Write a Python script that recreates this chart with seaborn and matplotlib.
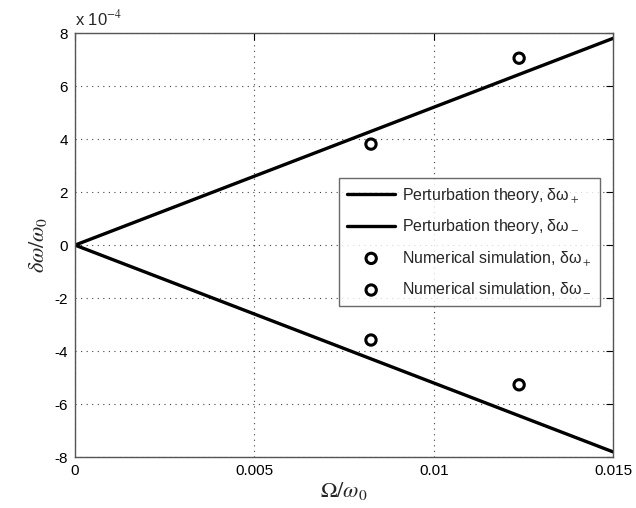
import numpy as np
import pandas as pd
import matplotlib
matplotlib.use("Agg")
import matplotlib.pyplot as plt
from matplotlib.ticker import FuncFormatter
import seaborn as sns

# perturbation theory (straight lines through origin)
theory_x = [0.0, 0.015]
theory_plus = [0.0, 7.8e-4]
theory_minus = [0.0, -7.8e-4]

# numerical simulation points
sim_x = [0.00825, 0.01238]
sim_plus = [3.81e-4, 7.05e-4]
sim_minus = [-3.58e-4, -5.27e-4]

xticks = [0, 0.005, 0.01, 0.015]
xtick_labels = ["0", "0.005", "0.01", "0.015"]
yticks = [-8e-4, -6e-4, -4e-4, -2e-4, 0, 2e-4, 4e-4, 6e-4, 8e-4]

sns.set_style("white")
plt.rcParams["font.family"] = ["Liberation Sans", "DejaVu Sans"]
plt.rcParams["mathtext.fontset"] = "stix"

fig = plt.figure(figsize=(6.36, 5.08), dpi=100)
ax = fig.add_axes([0.118, 0.100, 0.846, 0.835])

df_theory = pd.DataFrame({"x": theory_x, "plus": theory_plus, "minus": theory_minus})
df_sim = pd.DataFrame({"x": sim_x, "plus": sim_plus, "minus": sim_minus})

sns.lineplot(data=df_theory, x="x", y="plus", ax=ax, color="black", lw=2.4,
             label="Perturbation theory, δω$_+$")
sns.lineplot(data=df_theory, x="x", y="minus", ax=ax, color="black", lw=2.4,
             label="Perturbation theory, δω$_-$")
sns.scatterplot(data=df_sim, x="x", y="plus", ax=ax, marker="o", s=55,
                facecolor="none", edgecolor="black", linewidth=2.2, zorder=5,
                label="Numerical simulation, δω$_+$")
sns.scatterplot(data=df_sim, x="x", y="minus", ax=ax, marker="o", s=55,
                facecolor="none", edgecolor="black", linewidth=2.2, zorder=5,
                label="Numerical simulation, δω$_-$")

ax.set_xlim(0, 0.015)
ax.set_ylim(-8e-4, 8e-4)
ax.set_xticks(xticks)
ax.set_xticklabels(xtick_labels)
ax.set_yticks(yticks)
ax.yaxis.set_major_formatter(FuncFormatter(lambda v, p: f"{v * 1e4:.0f}"))
ax.tick_params(direction="in", length=5, labelsize=11, colors="black",
               top=True, right=True, labeltop=False, labelright=False, pad=5)
ax.grid(True, linestyle=(0, (1, 4)), color="#444444", linewidth=0.8)
for sp in ax.spines.values():
    sp.set_color("#555555")
    sp.set_linewidth(1.0)

ax.set_xlabel(r"$\Omega/\omega_0$", fontsize=16, labelpad=1)
ax.set_ylabel(r"$\delta\omega/\omega_0$", fontsize=16, labelpad=4)
ax.text(0.0, 1.01, r"x 10$^{-4}$", transform=ax.transAxes, fontsize=12,
        ha="left", va="bottom")

leg = ax.legend(loc="upper left", bbox_to_anchor=(0.491, 0.658), fontsize=11.5,
                handlelength=3.0, labelspacing=0.8, frameon=True, fancybox=False,
                edgecolor="#444444", borderpad=0.5, handletextpad=0.45,
                borderaxespad=0)
leg.get_frame().set_linewidth(1.0)

fig.savefig("out.png", dpi=100)
